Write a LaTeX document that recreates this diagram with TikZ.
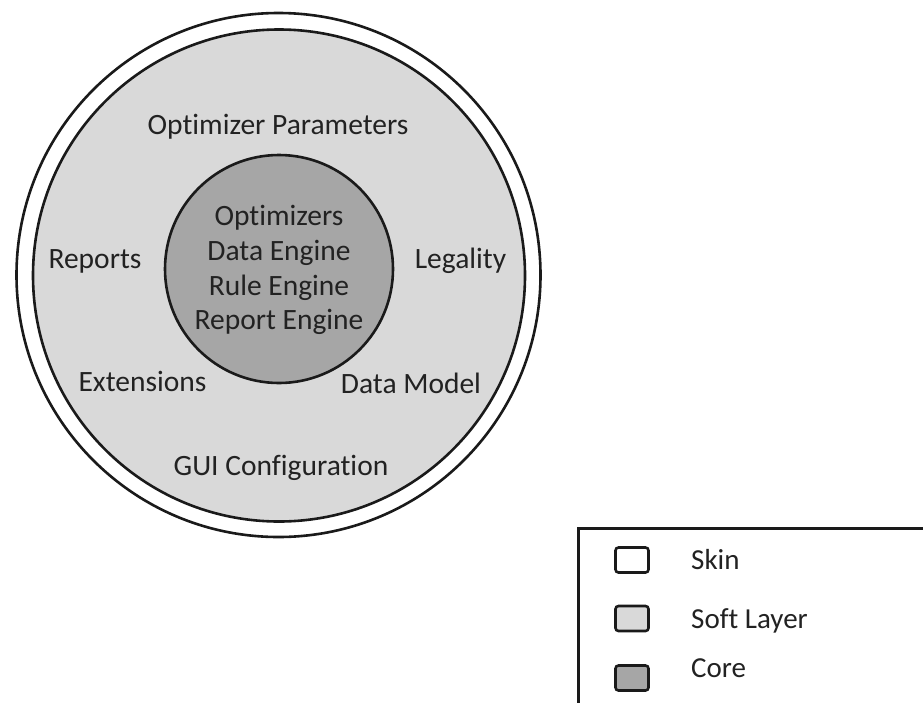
\documentclass[tikz,border=0pt]{standalone}
\usepackage{fontspec}
\setmainfont{Carlito}[Ligatures={NoCommon,NoContextual}]
\definecolor{softgray}{HTML}{D9D9D9}
\definecolor{coregray}{HTML}{A6A6A6}
\definecolor{inkline}{HTML}{1A1A1A}
\definecolor{inktext}{HTML}{222222}
\begin{document}
\begin{tikzpicture}[x=1pt,y=-1pt,
  ring/.style={circle, draw=inkline, line width=2.6pt, inner sep=0pt},
  lbl/.style={anchor=base, text=inktext, inner sep=0pt,
    font=\fontsize{29.5}{35}\selectfont},
  swatch/.style={draw=inkline, line width=2.6pt, rounded corners=3pt,
    minimum width=33pt, minimum height=25pt, inner sep=0pt},
  legtext/.style={anchor=base west, text=inktext, inner sep=0pt,
    font=\fontsize{29}{35}\selectfont}]
\useasboundingbox (0,0) rectangle (923,702);
\clip (0,0) rectangle (923,702);

% onion layers: skin, soft layer, core
\node[ring, fill=white, minimum size=524pt] (skin) at (278.5,275) {};
\node[ring, fill=softgray, minimum size=492pt] (soft) at (279,275.5) {};
\node[ring, fill=coregray, minimum size=228pt] (core) at (279,269) {};

% soft layer contents
\node[lbl] (optparams) at (278,134) {Optimizer Parameters};
\node[lbl] (reports) at (95,268) {Reports};
\node[lbl] (legality) at (460.5,268) {Legality};
\node[lbl] (extensions) at (142.5,391) {Extensions};
\node[lbl] (datamodel) at (411,393) {Data Model};
\node[lbl] (guiconf) at (281,475) {GUI Configuration};

% core contents
\node[lbl] (optimizers) at (279,225) {Optimizers};
\node[lbl] (dataengine) at (279,260) {Data Engine};
\node[lbl] (ruleengine) at (279,295) {Rule Engine};
\node[lbl] (reportengine) at (279,329.5) {Report Engine};

% legend
\node[draw=inkline, line width=2.6pt, anchor=north west, minimum width=420pt,
  minimum height=220pt, inner sep=0pt] (legend) at (577,527) {};
\node[swatch, fill=white] (swskin) at (632,560) {};
\node[swatch, fill=softgray] (swsoft) at (632,618.5) {};
\node[swatch, fill=coregray] (swcore) at (632,678) {};
\node[legtext] (ltskin) at (691,569) {Skin};
\node[legtext] (ltsoft) at (691,628.5) {Soft Layer};
\node[legtext] (ltcore) at (691,677.5) {Core};
\end{tikzpicture}
\end{document}
